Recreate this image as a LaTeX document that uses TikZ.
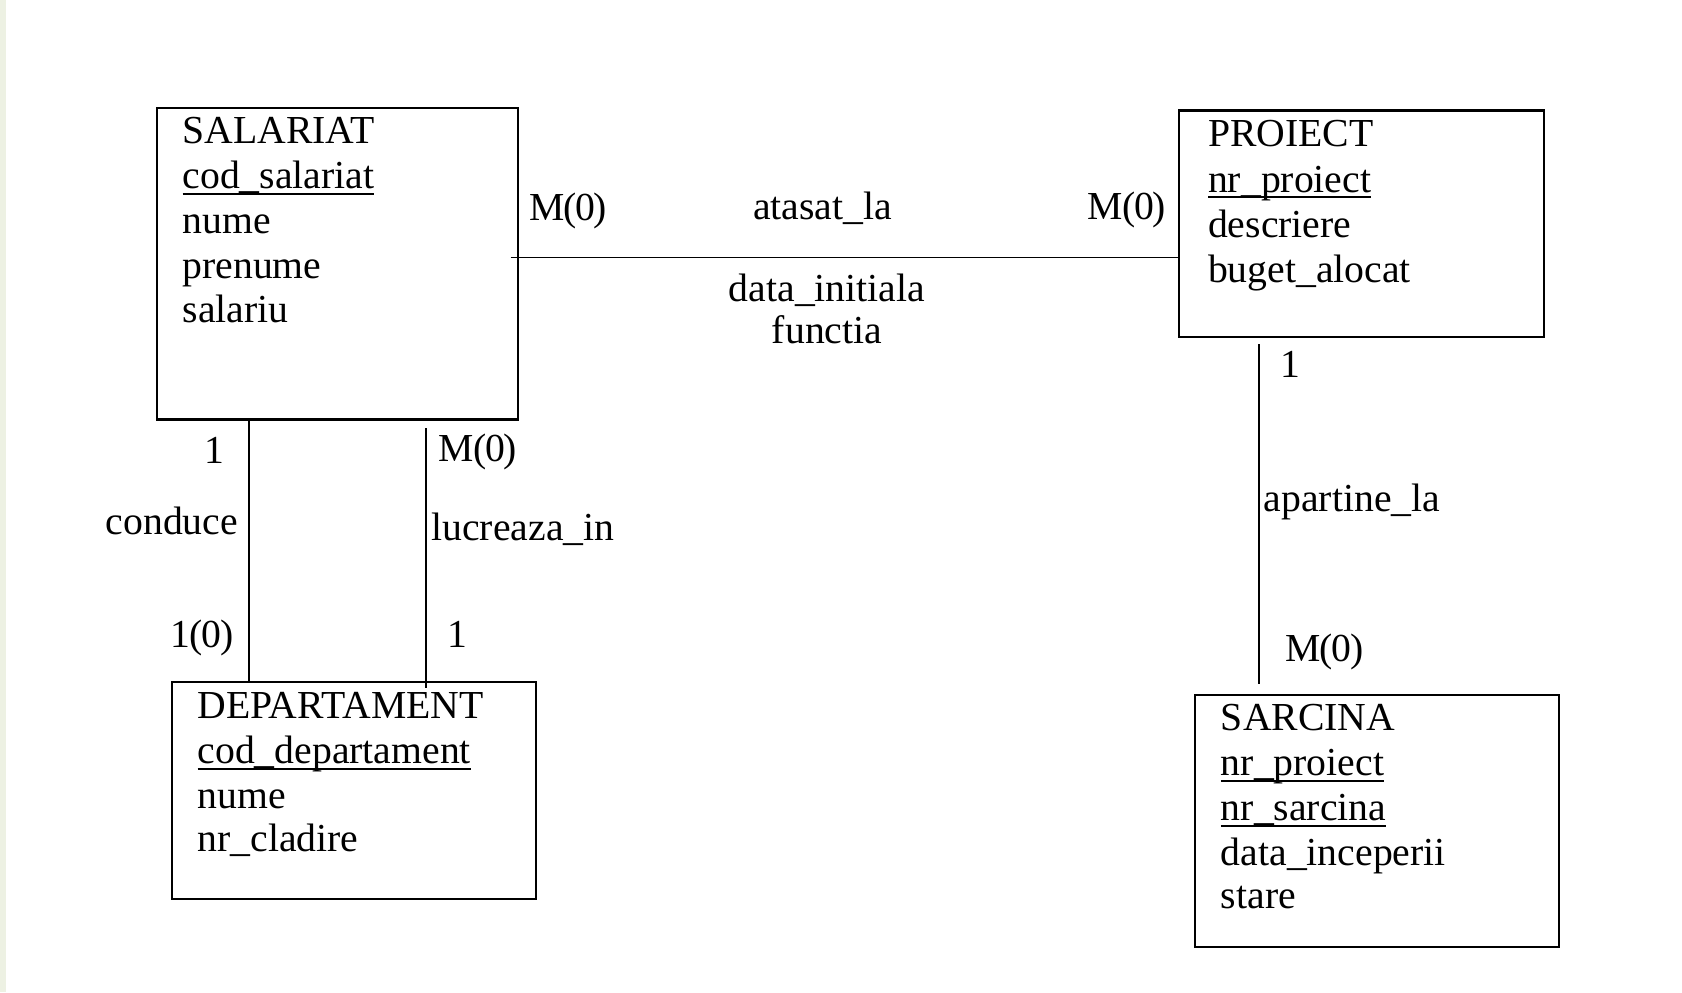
\documentclass[tikz,border=0pt]{standalone}
\usepackage{fontspec}
\setmainfont{Liberation Serif}
\newcommand\keyattr[1]{\setbox0\hbox{#1}\rlap{\rule[-0.16em]{\wd0}{0.06em}}\box0}
\newcommand\mz{M\kern-0.03em(\kern-0.03em0\kern-0.03em)}
\definecolor{stripcol}{RGB}{237,241,227}
\begin{document}
\begin{tikzpicture}[x=1pt,y=-1pt,
  font=\fontsize{37}{42}\selectfont,
  ent/.style 2 args={draw,line width=2pt,anchor=north west,inner sep=0pt,minimum width=#1,minimum height=#2},
  txt/.style={anchor=base west,inner sep=0pt},
  ctxt/.style={anchor=base,inner sep=0pt},
  conn/.style={line width=1.7pt}]
\useasboundingbox (0,0) rectangle (1568,925);
\fill[white] (0,0) rectangle (1568,925);
\fill[stripcol] (0,0) rectangle (6,925);

% entity boxes
\node[ent={337pt}{290pt}] (sal) at (145,100) {};
\node[ent={340pt}{211pt}] (proj) at (1098,102) {};
\node[ent={340pt}{202pt}] (dep) at (159,635) {};
\node[ent={339pt}{235pt}] (sarc) at (1113,647) {};

% SALARIAT
\node[txt] (s1) at (170,134) {SALARIAT};
\node[txt] (s2) at (170,176) {\keyattr{cod\_salariat}};
\node[txt] (s3) at (170,218) {nume};
\node[txt] (s4) at (170,260) {prenume};
\node[txt] (s5) at (170,301) {salariu};

% PROIECT
\node[txt] (p1) at (1126,137) {PROIECT};
\node[txt] (p2) at (1126,179) {\keyattr{nr\_proiect}};
\node[txt] (p3) at (1126,221) {descriere};
\node[txt] (p4) at (1126,263) {buget\_alocat};

% DEPARTAMENT
\node[txt] (d1) at (184,670) {DEPARTAMENT};
\node[txt] (d2) at (184,712) {\keyattr{cod\_departament}};
\node[txt] (d3) at (184,754) {nume};
\node[txt] (d4) at (184,794) {nr\_cladire};

% SARCINA
\node[txt] (c1) at (1138,681) {SARCINA};
\node[txt] (c2) at (1138,723) {\keyattr{nr\_proiect}};
\node[txt] (c3) at (1138,765) {\keyattr{nr\_sarcina}};
\node[txt] (c4) at (1138,807) {data\_inceperii};
\node[txt] (c5) at (1138,847) {stare};

% connectors
\coordinate (a1) at (476,240);
\draw[conn] (a1) -- (a1 -| proj.west);
\draw[conn] ([xshift=87pt]sal.south west) -- ([xshift=73pt,yshift=-2pt]dep.north west);
\draw[conn] ([xshift=252pt,yshift=-7pt]sal.south west) -- ([xshift=238pt,yshift=-6pt]dep.north west);
\draw[conn] ([xshift=76pt,yshift=-6pt]proj.south west) -- ([xshift=61pt,yshift=9pt]sarc.north west);

% relationship labels
\node[txt] (l1) at (493,206) {\mz};
\node[txt] (l2) at (702,205) {atasat\_la};
\node[txt] (l3) at (1014,205) {\mz};
\node[ctxt] (l4) at (771,281) {data\_initiala};
\node[ctxt] (l5) at (771,320) {functia};

\node[ctxt] (l6) at (200,432) {1};
\node[txt] (l7) at (409,430) {\mz};
\node[anchor=base east,inner sep=0pt] (l8) at (222,498) {conduce};
\node[txt] (l9) at (402,504) {lucreaza\_in};
\node[txt] (l10) at (159,604) {1\kern-0.03em(\kern-0.03em0\kern-0.03em)};
\node[ctxt] (l11) at (426,604) {1};

\node[ctxt] (l12) at (1203,352) {1};
\node[txt] (l13) at (1178,477) {apartine\_la};
\node[txt] (l14) at (1198,617) {\mz};
\end{tikzpicture}
\end{document}
